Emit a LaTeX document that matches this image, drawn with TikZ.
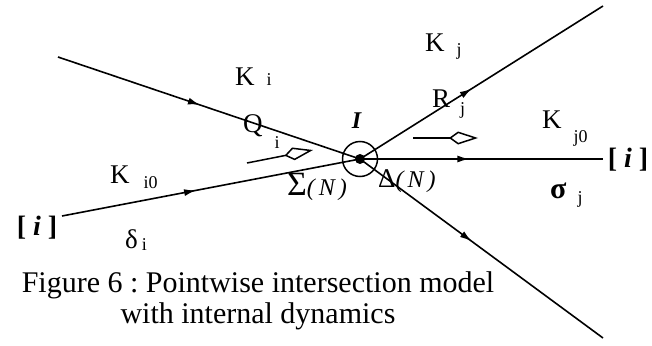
\documentclass[tikz,border=0pt]{standalone}
\usepackage{fontspec}
\setmainfont{Liberation Serif}
\usetikzlibrary{arrows.meta,decorations.markings}
\frenchspacing
% label with a lowered index: [gap] main, index, drop
\newcommand{\ksub}[4][12pt]{#2\hspace{#1}\raisebox{-#4pt}{\fontsize{18}{18}\selectfont #3}}

\begin{document}
\begin{tikzpicture}[x=1pt,y=-1pt,
  road/.style={line width=1.6pt,postaction={decorate},
    decoration={markings,mark=at position #1 with {\arrow{Latex[length=12pt,width=7pt]}}}},
  road/.default=0.46,
  flow/.style={line width=1.5pt,-{Kite[open,length=29pt,width=13pt,inset=9pt,line width=1.5pt]}},
  lbl/.style={inner sep=0pt,anchor=base west,font=\fontsize{27}{27}\selectfont},
  gate/.style={inner sep=0pt,font=\bfseries\fontsize{28}{28}\selectfont},
  caption/.style={inner sep=0pt,align=center,font=\fontsize{30}{31}\selectfont}]
\useasboundingbox (0,0) rectangle (652,345);

% crossing
\node[draw,circle,line width=1.5pt,minimum size=35pt,inner sep=0pt] (hub) at (360,159) {};
\fill (hub.center) circle (5);

\coordinate (nw) at (58,57);
\coordinate (sw) at (62,216);
\coordinate (ne) at (603,6);
\coordinate (ee) at (603,159);
\coordinate (se) at (603,338);

\draw[road=0.47] (nw) -- (hub.center);
\draw[road=0.45] (sw) -- (hub.center);
\draw[road=0.46] (hub.center) -- (ne);
\draw[road=0.45] (hub.center) -- (ee);
\draw[road=0.46] (hub.center) -- (se);

% flows
\coordinate (qa) at (247,163);
\coordinate (qb) at (313,150);
\coordinate (ra) at (413,138);
\coordinate (rb) at (478,138);
\draw[flow] (qa) -- (qb);
\draw[flow] (ra) -- (rb);

% labels
\node[lbl] (ki) at (235,85) {\ksub{K}{i}{0}};
\node[lbl] (qi) at (243,132) {\ksub{Q}{i}{16}};
\node[lbl] (ki0) at (110,183) {\ksub[14pt]{K}{i0}{5}};
\node[lbl] (kj) at (425,52) {\ksub{K}{j}{4}};
\node[lbl] (rj) at (432,107) {\ksub[10pt]{R}{j}{7}};
\node[lbl] (kj0) at (542,128) {\ksub{K}{j0}{14}};
\node[lbl] (sj) at (550,198) {\ksub[11pt]{\textbf{\fontsize{30}{30}\selectfont σ}}{j}{5}};
\node[lbl] (di) at (125,248) {\ksub[4pt]{δ}{i}{2}};
\node[lbl] (sig) at (287,195) {{\fontsize{34}{34}\selectfont Σ}{\fontsize{24}{24}\selectfont\textit{(\,N\,)}}};
\node[lbl] (del) at (378,187) {Δ{\fontsize{24}{24}\selectfont\textit{(\,N\,)}}};
\node[gate,font=\bfseries\fontsize{24}{24}\selectfont] (inode) at (357,121) {\textit{I}};
\node[gate] (iin) at (37,228) {[ \textit{i} ]};
\node[gate] (iout) at (628,160) {[ \textit{i} ]};

\node[caption] (cap) at (258,301) {Figure 6 : Pointwise intersection model\\with internal dynamics};
\end{tikzpicture}
\end{document}
